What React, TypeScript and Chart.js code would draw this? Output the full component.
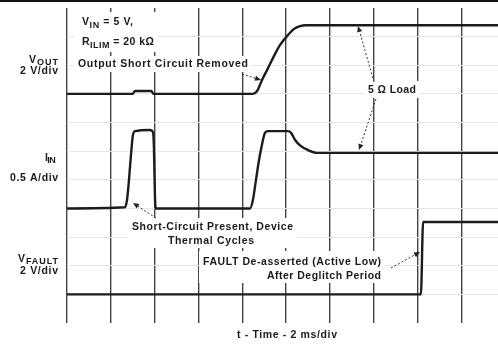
import React, { useEffect, useRef } from 'react';
import { Chart, registerables } from 'chart.js';

Chart.register(...registerables);

// ---- Data (time in ms, 2 ms/div) ----
const voutTimeMs = [0, 3.0, 3.1, 3.85, 3.95, 8.49, 8.68, 8.9, 9.18, 9.45, 9.73, 10.05, 10.37, 10.64, 10.91, 19.68];
const voutVolts = [0, 0, 0.2, 0.2, 0, 0, 0.2, 0.96, 1.8, 2.64, 3.42, 4.04, 4.54, 4.74, 4.8, 4.8];

const iinTimeMs = [0, 2.65, 2.74, 2.83, 2.92, 3.01, 3.11, 3.79, 3.93, 3.97, 4.02, 4.06, 8.36, 8.49, 8.63, 8.77, 8.9, 9.04, 9.18, 10.09, 10.23, 10.41, 10.64, 11.0, 11.42, 19.68];
const iinAmps = [0, 0.02, 0.15, 0.5, 0.93, 1.28, 1.35, 1.37, 1.33, 1.05, 0.15, 0, 0, 0.15, 0.5, 0.85, 1.11, 1.32, 1.35, 1.35, 1.32, 1.2, 1.1, 1.02, 0.97, 0.97];

const faultTimeMs = [0, 16.16, 16.26, 19.68];
const faultVolts = [0, 0, 5.05, 5.05];

// scope settings
const msPerDiv = 2;
const timeSpanMs = 19.68;
const verticalDivs = 11;
const voutZeroDiv = 8;
const voutVoltsPerDiv = 2;
const iinZeroDiv = 4;
const iinAmpsPerDiv = 0.5;
const faultZeroDiv = 1;
const faultVoltsPerDiv = 2;

type Seg = { t: string; sub?: boolean };
type Label = { segs: Seg[]; x0: number; x1: number; y: number };

const labelList: Label[] = [
  { segs: [{ t: 'V' }, { t: 'OUT', sub: true }], x0: 29, x1: 58, y: 60 },
  { segs: [{ t: '2 V/div' }], x0: 20, x1: 58, y: 71 },
  { segs: [{ t: 'I' }, { t: 'IN', sub: true }], x0: 45, x1: 53, y: 158 },
  { segs: [{ t: '0.5 A/div' }], x0: 10, x1: 58, y: 178 },
  { segs: [{ t: 'V' }, { t: 'FAULT', sub: true }], x0: 18, x1: 58, y: 259 },
  { segs: [{ t: '2 V/div' }], x0: 20, x1: 58, y: 271 },
  { segs: [{ t: 'V' }, { t: 'IN', sub: true }, { t: ' = 5 V,' }], x0: 82, x1: 133, y: 22.5 },
  { segs: [{ t: 'R' }, { t: 'ILIM', sub: true }, { t: ' = 20 kΩ' }], x0: 82, x1: 154, y: 42.5 },
  { segs: [{ t: 'Output Short Circuit Removed' }], x0: 78, x1: 248, y: 64 },
  { segs: [{ t: '5 Ω Load' }], x0: 368, x1: 416, y: 90 },
  { segs: [{ t: 'Short-Circuit Present, Device' }], x0: 132, x1: 293, y: 227 },
  { segs: [{ t: 'Thermal Cycles' }], x0: 168, x1: 254, y: 241 },
  { segs: [{ t: 'FAULT De-asserted (Active Low)' }], x0: 203, x1: 381, y: 262 },
  { segs: [{ t: 'After Deglitch Period' }], x0: 267, x1: 381, y: 276 },
  { segs: [{ t: 't - Time - 2 ms/div' }], x0: 237, x1: 337, y: 335 },
];

// white boxes behind annotation blocks [x0, y0, x1, y1]
const boxList = [
  [75, 12, 158, 52],
  [75, 56, 251, 72],
  [364, 81, 420, 98],
  [128, 218, 297, 248],
  [199, 251, 385, 283],
];

// arrows [fromX, fromY, tipX, tipY]
const arrowList = [
  [242, 74, 261, 80],
  [374, 82, 358, 26],
  [376, 99, 359, 150],
  [156, 218, 133, 203],
  [391, 268, 420, 252],
];

const FONT = '"Liberation Sans", Arial, sans-serif';
const MAIN_SIZE = 10.5;
const SUB_SIZE = 9;

function drawLabel(ctx: CanvasRenderingContext2D, l: Label) {
  const fonts = l.segs.map((s) => `bold ${s.sub ? SUB_SIZE : MAIN_SIZE}px ${FONT}`);
  let natural = 0;
  let n = 0;
  const widths: number[] = [];
  (ctx as any).letterSpacing = '0px';
  l.segs.forEach((s, i) => {
    ctx.font = fonts[i];
    const w = ctx.measureText(s.t).width;
    widths.push(w);
    natural += w;
    n += s.t.length;
  });
  let sp = n > 1 ? (l.x1 - l.x0 - natural) / (n - 1) : 0;
  sp = Math.max(-0.6, Math.min(3, sp));
  let x = l.x0;
  ctx.fillStyle = '#1a1a1a';
  ctx.textBaseline = 'middle';
  ctx.textAlign = 'left';
  l.segs.forEach((s, i) => {
    ctx.font = fonts[i];
    (ctx as any).letterSpacing = `${sp}px`;
    ctx.fillText(s.t, x, l.y + (s.sub ? 3 : 0));
    x += widths[i] + sp * s.t.length;
  });
  (ctx as any).letterSpacing = '0px';
}

function drawArrow(ctx: CanvasRenderingContext2D, a: number[]) {
  const [fx, fy, tx, ty] = a;
  const ang = Math.atan2(ty - fy, tx - fx);
  const len = 6;
  const bx = tx - len * Math.cos(ang);
  const by = ty - len * Math.sin(ang);
  ctx.save();
  ctx.strokeStyle = '#333';
  ctx.lineWidth = 1;
  ctx.setLineDash([2, 2]);
  ctx.beginPath();
  ctx.moveTo(fx, fy);
  ctx.lineTo(bx, by);
  ctx.stroke();
  ctx.setLineDash([]);
  ctx.fillStyle = '#222';
  ctx.beginPath();
  ctx.moveTo(tx, ty);
  ctx.lineTo(bx + 2.6 * Math.sin(ang), by - 2.6 * Math.cos(ang));
  ctx.lineTo(bx - 2.6 * Math.sin(ang), by + 2.6 * Math.cos(ang));
  ctx.closePath();
  ctx.fill();
  ctx.restore();
}

const annotationPlugin = {
  id: 'scopeAnnotations',
  beforeDatasetsDraw(chart: Chart) {
    const ctx = chart.ctx;
    ctx.save();
    ctx.fillStyle = '#ffffff';
    boxList.forEach(([x0, y0, x1, y1]) => ctx.fillRect(x0, y0, x1 - x0, y1 - y0));
    // top frame line
    ctx.strokeStyle = '#111';
    ctx.lineWidth = 2;
    ctx.beginPath();
    ctx.moveTo(0, 1);
    ctx.lineTo(chart.width, 1);
    ctx.stroke();
    labelList.forEach((l) => drawLabel(ctx, l));
    arrowList.forEach((a) => drawArrow(ctx, a));
    ctx.restore();
  },
};

function toPoints(time: number[], vals: number[], zero: number, perDiv: number) {
  return time.map((t, i) => ({ x: t, y: zero + vals[i] / perDiv }));
}

export default function App() {
  const ref = useRef<HTMLCanvasElement>(null);
  useEffect(() => {
    const traceStyle = {
      borderColor: '#1c1c1c',
      borderWidth: 2.4,
      pointRadius: 0,
      fill: false,
      cubicInterpolationMode: 'monotone' as const,
    };
    const chart = new Chart(ref.current!, {
      type: 'line',
      data: {
        datasets: [
          { label: 'VOUT', data: toPoints(voutTimeMs, voutVolts, voutZeroDiv, voutVoltsPerDiv), ...traceStyle },
          { label: 'IIN', data: toPoints(iinTimeMs, iinAmps, iinZeroDiv, iinAmpsPerDiv), ...traceStyle },
          { label: 'VFAULT', data: toPoints(faultTimeMs, faultVolts, faultZeroDiv, faultVoltsPerDiv), ...traceStyle },
        ],
      },
      options: {
        animation: false,
        responsive: false,
        devicePixelRatio: 1,
        layout: { padding: { left: 67, right: 0, top: 8, bottom: 22 } },
        plugins: { legend: { display: false }, tooltip: { enabled: false } },
        scales: {
          x: {
            type: 'linear',
            min: 0,
            max: timeSpanMs,
            z: 0,
            ticks: { display: false, stepSize: msPerDiv, includeBounds: false },
            grid: { color: '#444', lineWidth: 1.4, drawTicks: false },
            border: { display: false },
          },
          y: {
            type: 'linear',
            min: 0,
            max: verticalDivs,
            z: -1,
            ticks: { display: false, stepSize: 1 },
            grid: {
              color: (c: any) => (c.tick.value === 0 || c.tick.value === verticalDivs ? 'rgba(0,0,0,0)' : '#e6e6e6'),
              lineWidth: 1,
              drawTicks: false,
            },
            border: { display: false },
          },
        },
      },
      plugins: [annotationPlugin],
    });
    return () => chart.destroy();
  }, []);
  return (
    <div style={{ position: 'absolute', left: 0, top: 0, width: 498, height: 345, background: '#fff' }}>
      <canvas ref={ref} width={498} height={345} style={{ display: 'block' }} />
    </div>
  );
}
